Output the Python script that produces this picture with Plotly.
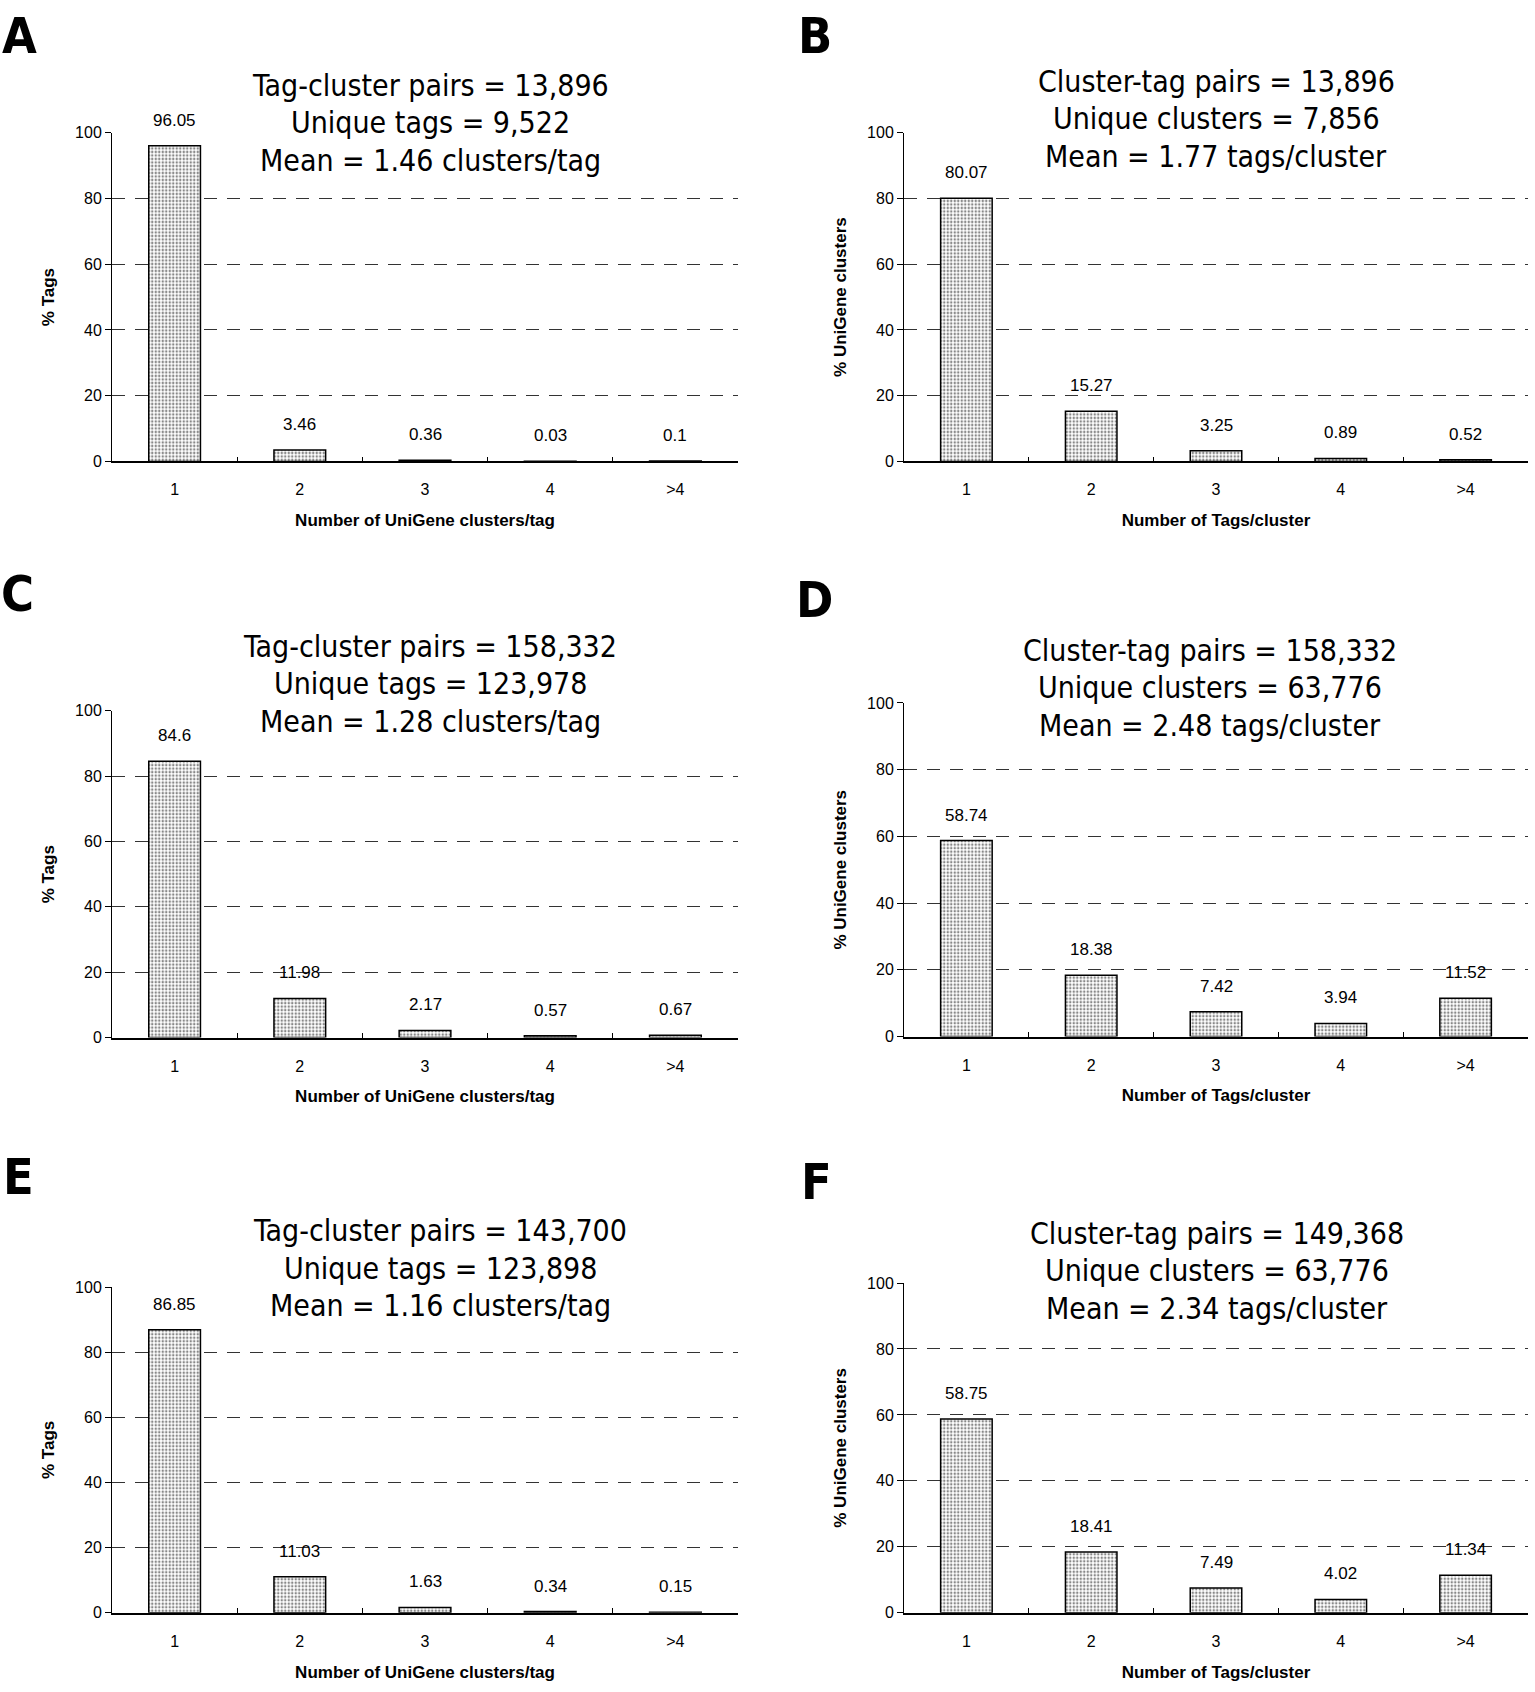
import plotly.graph_objects as go
from plotly.subplots import make_subplots

W, H = 1535, 1692

categories = ["1", "2", "3", "4", ">4"]

values_a = [96.05, 3.46, 0.36, 0.03, 0.1]
values_b = [80.07, 15.27, 3.25, 0.89, 0.52]
values_c = [84.6, 11.98, 2.17, 0.57, 0.67]
values_d = [58.74, 18.38, 7.42, 3.94, 11.52]
values_e = [86.85, 11.03, 1.63, 0.34, 0.15]
values_f = [58.75, 18.41, 7.49, 4.02, 11.34]

titles_a = ["Tag-cluster pairs = 13,896", "Unique tags = 9,522", "Mean = 1.46 clusters/tag"]
titles_b = ["Cluster-tag pairs = 13,896", "Unique clusters = 7,856", "Mean = 1.77 tags/cluster"]
titles_c = ["Tag-cluster pairs = 158,332", "Unique tags = 123,978", "Mean = 1.28 clusters/tag"]
titles_d = ["Cluster-tag pairs = 158,332", "Unique clusters = 63,776", "Mean = 2.48 tags/cluster"]
titles_e = ["Tag-cluster pairs = 143,700", "Unique tags = 123,898", "Mean = 1.16 clusters/tag"]
titles_f = ["Cluster-tag pairs = 149,368", "Unique clusters = 63,776", "Mean = 2.34 tags/cluster"]

tag_xtitle = "Number of UniGene clusters/tag"
tag_ytitle = "% Tags"
clu_xtitle = "Number of Tags/cluster"
clu_ytitle = "% UniGene clusters"

panels = [
    ("A", values_a, titles_a, tag_xtitle, tag_ytitle),
    ("B", values_b, titles_b, clu_xtitle, clu_ytitle),
    ("C", values_c, titles_c, tag_xtitle, tag_ytitle),
    ("D", values_d, titles_d, clu_xtitle, clu_ytitle),
    ("E", values_e, titles_e, tag_xtitle, tag_ytitle),
    ("F", values_f, titles_f, clu_xtitle, clu_ytitle),
]

# pixel boxes of each plot area: (left, right, top, bottom)
boxes = [
    (112, 738, 126, 458),
    (904, 1528, 126, 458),
    (112, 738, 710, 1040),
    (904, 1528, 702, 1039),
    (112, 738, 1292, 1621),
    (904, 1528, 1288, 1621),
]
# panel letter (left, top) and heading (center x, first line y)
letters_pos = [(1, -2), (797, -2), (0, 562), (795, 568), (2, 1151), (800, 1156)]
title_pos = [(430, 78), (1216, 74), (430, 645), (1210, 649), (440, 1235), (1217, 1238)]
line_gap = 37.8

TEXT_FONT = "Liberation Sans, Arial, sans-serif"
HEAD_FONT = "DejaVu Sans Condensed, Liberation Sans Narrow, Arial Narrow, sans-serif"


def px(x):
    return x / W


def py(y):
    return 1 - y / H


fig = make_subplots(rows=3, cols=2)

for i, (letter, vals, tlines, xt, yt) in enumerate(panels):
    r, c = i // 2 + 1, i % 2 + 1
    fig.add_trace(go.Bar(
        x=categories, y=vals,
        marker=dict(color="white",
                    line=dict(color="black", width=1.5),
                    pattern=dict(shape=".", size=3.5, solidity=0.4,
                                 fgcolor="#111111", bgcolor="white")),
        showlegend=False,
    ), row=r, col=c)

    left, right, top, bottom = boxes[i]
    n = "" if i == 0 else str(i + 1)
    fig.layout["xaxis" + n].update(
        domain=[px(left), px(right)], type="category",
        showline=True, linecolor="black", linewidth=1.5,
        ticks="inside", ticklen=5, tickcolor="black", tickson="boundaries",
        ticklabelstandoff=13,
        tickfont=dict(family=TEXT_FONT, size=16, color="black"),
        showgrid=False, zeroline=False,
        title=dict(text="<b>" + xt + "</b>", standoff=17,
                   font=dict(family=TEXT_FONT, size=17, color="black")),
    )
    fig.layout["yaxis" + n].update(
        domain=[py(bottom), py(top)], range=[0, 100],
        tickvals=[0, 20, 40, 60, 80, 100],
        showline=True, linecolor="black", linewidth=1,
        ticks="outside", ticklen=6, tickcolor="black",
        tickfont=dict(family=TEXT_FONT, size=16, color="black"),
        showgrid=False, zeroline=False,
        minor=dict(tickvals=[20, 40, 60, 80], showgrid=True, gridcolor="#333333",
                   gridwidth=1, griddash="13px,10px", ticklen=0),
        title=dict(text="<b>" + yt + "</b>", standoff=16,
                   font=dict(family=TEXT_FONT, size=17, color="black")),
    )

    # value labels above the bars (category axis positions are 0..4)
    for j, v in enumerate(vals):
        fig.add_annotation(x=j, y=v, xref="x" + n, yref="y" + n,
                           text=str(v), showarrow=False, yanchor="bottom", yshift=14,
                           font=dict(family=TEXT_FONT, size=17, color="black"))

    # three-line heading
    tx, ty = title_pos[i]
    for k, line in enumerate(tlines):
        fig.add_annotation(x=px(tx), y=py(ty + k * line_gap), xref="paper", yref="paper",
                           text=line, showarrow=False, xanchor="center", yanchor="middle",
                           font=dict(family=HEAD_FONT, size=30, color="black"))

    lx, ly = letters_pos[i]
    fig.add_annotation(x=px(lx), y=py(ly), xref="paper", yref="paper",
                       text="<b>" + letter + "</b>", showarrow=False,
                       xanchor="left", yanchor="top", borderpad=0,
                       font=dict(family=HEAD_FONT, size=50, color="black"))

fig.update_layout(
    width=W, height=H,
    margin=dict(l=0, r=0, t=0, b=0),
    plot_bgcolor="white", paper_bgcolor="white",
    bargap=0.587,
)

# pin the figure to the page corner so the page is exactly the figure size
pin = ("var d = document.getElementById('{plot_id}');"
       "d.style.position = 'absolute'; d.style.left = '0px'; d.style.top = '0px';"
       "document.body.style.margin = '0';")
fig.write_html("out.html", post_script=pin, config={"displayModeBar": False})
